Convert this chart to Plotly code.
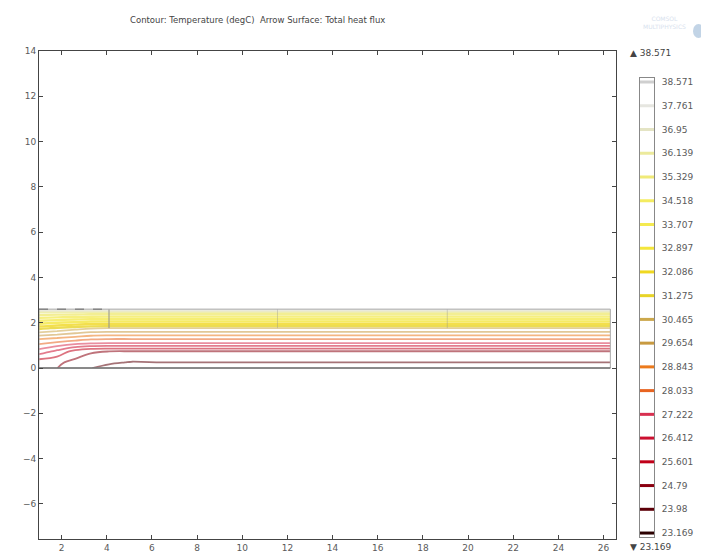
import plotly.graph_objects as go

# ---- temperature samples (degC) on a coarse grid of the cross-section ----
x_cols = [1.0, 1.8, 2.6, 3.3, 4.1, 5.1, 6.2, 26.3]
y_rows = [0.0, 0.25, 0.74, 1.10, 1.28, 1.76, 1.85, 2.50, 2.60]

# one list per x column, bottom (y=0) to top (y=2.6)
t_x1_0 = [24.95, 25.1, 26.89, 28.21, 28.84, 31.49, 32.23, 36.3, 37.9]
t_x1_8 = [24.8, 24.95, 26.2, 27.85, 28.6, 31.15, 31.9, 36.3, 37.9]
t_x2_6 = [24.4, 24.55, 25.3, 27.5, 28.35, 30.8, 31.6, 36.3, 37.9]
t_x3_3 = [24.0, 24.3, 24.9, 27.3, 28.1, 30.55, 31.35, 36.3, 37.9]
t_x4_1 = [23.75, 24.1, 24.8, 27.22, 28.03, 30.47, 31.28, 36.3, 37.9]
t_x5_1 = [23.45, 23.93, 24.79, 27.22, 28.03, 30.47, 31.28, 36.3, 37.9]
t_x6_2 = [23.2, 23.98, 24.79, 27.22, 28.03, 30.47, 31.28, 36.3, 37.9]
t_x26_3 = [23.2, 23.98, 24.79, 27.22, 28.03, 30.47, 31.28, 36.3, 37.9]

# contour levels and their colour-legend labels (top to bottom)
t_min = 23.169
t_max = 38.571
n_levels = 20
level_labels = ["38.571", "37.761", "36.95", "36.139", "35.329", "34.518", "33.707",
                "32.897", "32.086", "31.275", "30.465", "29.654", "28.843", "28.033",
                "27.222", "26.412", "25.601", "24.79", "23.98", "23.169"]

# line colour of each level, low to high
level_colors = ["#2b0000", "#5c0008", "#8a0010", "#c00018", "#cc1030", "#d83050",
                "#e86420", "#ec7a1c", "#c89a40", "#cca84c", "#e8d428", "#f0d820",
                "#f4e63c", "#f4ea50", "#f4ec60", "#f0ea78", "#ecea9c", "#e4e4c4",
                "#e6e6e0", "#cfcfcf"]

# geometry edges
outline_x = [1.0, 26.3, 26.3, 1.0, 1.0]
outline_y = [0.0, 0.0, 2.6, 2.6, 0.0]
inner_edges_x = [4.1, 11.56, 19.08]
inner_edge_y = [1.76, 2.6]
top_edge_x = [1.0, 4.1]

x_ticks = list(range(2, 27, 2))
y_ticks = list(range(-6, 15, 2))

# ---- build figure ----
columns = [t_x1_0, t_x1_8, t_x2_6, t_x3_3, t_x4_1, t_x5_1, t_x6_2, t_x26_3]
z = [[col[j] for col in columns] for j in range(len(y_rows))]

step = (t_max - t_min) / (n_levels - 1)
levels = [t_min + i * step for i in range(n_levels)]

fig = go.Figure()

# faint subdomain edges sit underneath the isotherms
for i, xe in enumerate(inner_edges_x):
    fig.add_trace(go.Scatter(x=[xe, xe], y=inner_edge_y, mode="lines",
                             line=dict(color="#909090" if i == 0 else "rgba(140,140,140,0.35)",
                                       width=1),
                             hoverinfo="skip", showlegend=False))

# warm (yellow) isotherms are packed tightly; cooler ones drawn thinner and lighter
split = 10  # index of first warm level (31.275)
for lo, hi, width, alpha in [(0, split - 1, 1.8, 0.55), (split, n_levels - 1, 2.4, 0.8)]:
    part = level_colors[lo:hi + 1]
    scale = [[k / (len(part) - 1), c] for k, c in enumerate(part)]
    fig.add_trace(go.Contour(
        x=x_cols, y=y_rows, z=z,
        autocontour=False,
        contours=dict(start=levels[lo], end=levels[hi], size=step, coloring="lines"),
        colorscale=scale,
        line=dict(width=width, smoothing=1.0),
        opacity=alpha, showscale=False,
        hoverinfo="skip",
    ))

fig.add_trace(go.Scatter(x=outline_x, y=outline_y, mode="lines",
                         line=dict(color="#a8a8a8", width=1),
                         hoverinfo="skip", showlegend=False))
fig.add_trace(go.Scatter(x=[outline_x[0], outline_x[1]], y=[outline_y[0], outline_y[1]],
                         mode="lines", line=dict(color="#707070", width=1.5),
                         hoverinfo="skip", showlegend=False))
fig.add_trace(go.Scatter(x=top_edge_x, y=[outline_y[2], outline_y[2]], mode="lines",
                         line=dict(color="#666", width=1, dash="dash"),
                         hoverinfo="skip", showlegend=False))

# colour legend: one short bar per contour level on its own axis
fig.add_trace(go.Scatter(
    x=[0.5] * n_levels, y=levels, xaxis="x2", yaxis="y2", mode="markers",
    marker=dict(symbol="line-ew", size=14, line=dict(width=3, color=level_colors)),
    hoverinfo="skip", showlegend=False,
))

axis_font = dict(family="DejaVu Sans", size=9, color="#5a5a5a")
main_axis = dict(ticks="inside", ticklen=4, tickcolor="#444", showline=True,
                 linecolor="#444", linewidth=1, mirror="ticks", showgrid=False,
                 zeroline=False, tickfont=axis_font, automargin=False)

fig.update_layout(
    width=701, height=552,
    margin=dict(l=39, r=0, t=51, b=13),
    plot_bgcolor="white", paper_bgcolor="white",
    showlegend=False,
    xaxis=dict(domain=[0, 577 / 662], range=[1.0, 26.55], tickvals=x_ticks,
               anchor="y", **main_axis),
    yaxis=dict(domain=[0, 1], range=[-7.55, 14.0], tickvals=y_ticks,
               anchor="x", **main_axis),
    xaxis2=dict(domain=[601 / 662, 615 / 662], range=[0, 1], anchor="y2",
                showline=True, mirror=True, linecolor="#888", linewidth=1,
                showticklabels=False, ticks="", showgrid=False, zeroline=False,
                automargin=False),
    yaxis2=dict(domain=[0.004, 0.945], range=[23.032, 38.714], anchor="x2",
                side="right", showline=True, mirror=True, linecolor="#888",
                linewidth=1, tickmode="array", tickvals=levels[::-1],
                ticktext=level_labels, ticks="outside", ticklen=5,
                tickcolor="rgba(0,0,0,0)", showgrid=False, zeroline=False,
                tickfont=axis_font, automargin=False),
)

# text placed in paper coordinates (paper spans x 39..701, y 51..539 px)
label_font = dict(family="DejaVu Sans", size=9, color="#444")
fig.add_annotation(xref="paper", yref="paper", x=(128 - 39) / 662, y=(539 - 20) / 488,
                   xanchor="left", yanchor="middle",
                   text="Contour: Temperature (degC)  Arrow Surface: Total heat flux",
                   showarrow=False, font=dict(family="DejaVu Sans", size=8.5, color="#444"))
fig.add_annotation(xref="paper", yref="paper", x=(628 - 39) / 662, y=(539 - 53) / 488,
                   xanchor="left", yanchor="middle", text="\u25b2 " + level_labels[0],
                   showarrow=False, font=label_font)
fig.add_annotation(xref="paper", yref="paper", x=(628 - 39) / 662, y=(539 - 547) / 488,
                   xanchor="left", yanchor="middle", text="\u25bc " + level_labels[-1],
                   showarrow=False, font=label_font)
fig.add_annotation(xref="paper", yref="paper", x=(688 - 39) / 662, y=(539 - 22) / 488,
                   xanchor="right", yanchor="middle", text="COMSOL<br>MULTIPHYSICS",
                   showarrow=False,
                   font=dict(family="DejaVu Sans", size=6, color="#d8e2ee"))
fig.add_shape(type="circle", xref="paper", yref="paper",
              x0=(693 - 39) / 662, x1=(704 - 39) / 662,
              y0=(539 - 38) / 488, y1=(539 - 24) / 488,
              line=dict(width=0), fillcolor="rgba(120,160,200,0.45)")

fig.write_html("out.html")
